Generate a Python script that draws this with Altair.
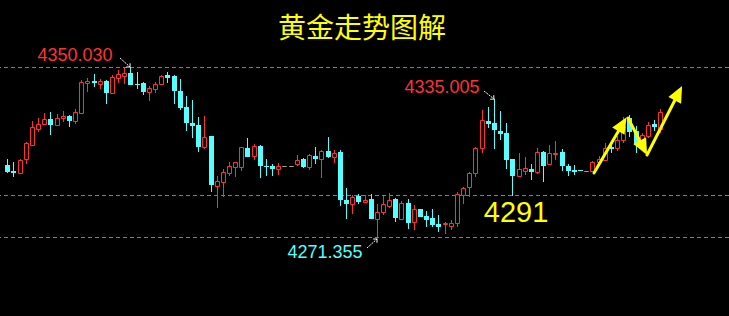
import altair as alt
import pandas as pd

# ---- candle data ----
opens = [4304.7, 4301.9, 4301.1, 4307.3, 4314.1, 4321.5, 4323.8, 4326.0, 4323.3, 4326.4,
         4327.3, 4325.2, 4328.9, 4342.8, 4343.6, 4342.2, 4343.6, 4338.1, 4345.1, 4345.9,
         4347.3, 4342.2, 4342.6, 4338.6, 4339.8, 4342.2, 4346.3, 4345.9, 4338.9, 4331.5,
         4324.1, 4323.2, 4313.1, 4318.1, 4295.1, 4296.9, 4301.1, 4303.9, 4303.9, 4312.5,
         4308.8, 4313.5, 4304.3, 4304.1, 4303.0, 4304.1, 4304.1, 4305.0, 4307.3, 4303.6,
         4308.7, 4307.3, 4311.0, 4308.2, 4310.5, 4288.6, 4286.8, 4290.5, 4287.7, 4289.1,
         4279.8, 4282.9, 4285.8, 4288.9, 4279.8, 4287.1, 4278.4, 4284.3, 4281.1, 4280.3,
         4277.4, 4277.5, 4276.6, 4278.0, 4290.8, 4294.5, 4300.8, 4312.4, 4325.0, 4324.1,
         4320.4, 4319.3, 4307.4, 4299.7, 4302.0, 4302.7, 4301.3, 4310.5, 4305.0, 4309.6,
         4310.5, 4304.1, 4302.4, 4302.4, 4301.9, 4301.8, 4306.1, 4307.1, 4312.9, 4312.7,
         4316.4, 4326.6, 4320.4, 4313.8, 4317.9, 4323.8, 4321.5]
highs = [4307.4, 4306.0, 4307.4, 4315.3, 4325.0, 4326.4, 4328.6, 4329.2, 4328.3, 4329.7,
         4327.6, 4330.6, 4344.0, 4344.9, 4346.8, 4344.5, 4344.0, 4346.3, 4348.6, 4349.8,
         4350.03, 4347.7, 4343.1, 4341.2, 4343.1, 4346.1, 4347.7, 4346.3, 4344.5, 4336.6,
         4334.8, 4326.9, 4327.3, 4318.3, 4299.6, 4302.8, 4306.1, 4306.1, 4313.0, 4317.2,
         4314.4, 4313.9, 4307.4, 4305.1, 4305.6, 4304.1, 4304.1, 4309.3, 4307.9, 4309.8,
         4312.9, 4311.6, 4317.6, 4311.5, 4311.5, 4294.2, 4290.9, 4291.4, 4290.9, 4291.4,
         4286.8, 4290.3, 4291.7, 4289.4, 4288.0, 4288.9, 4286.2, 4284.5, 4283.5, 4284.4,
         4281.7, 4278.4, 4279.2, 4292.0, 4294.5, 4301.4, 4313.0, 4330.1, 4331.5, 4335.005,
         4329.7, 4324.0, 4307.4, 4310.2, 4308.4, 4305.3, 4312.7, 4311.0, 4313.8, 4315.6,
         4311.9, 4305.3, 4304.5, 4302.4, 4301.9, 4306.5, 4308.7, 4314.7, 4313.9, 4318.1,
         4326.8, 4327.7, 4322.7, 4319.3, 4324.6, 4325.5, 4330.6]
lows = [4301.0, 4299.3, 4300.9, 4305.1, 4313.9, 4319.9, 4323.6, 4318.6, 4323.1, 4324.6,
        4322.4, 4323.7, 4328.7, 4338.6, 4340.9, 4339.8, 4333.0, 4337.9, 4342.6, 4342.2,
        4341.5, 4339.8, 4337.1, 4334.3, 4338.0, 4342.0, 4342.6, 4332.9, 4330.1, 4320.4,
        4317.3, 4310.8, 4312.1, 4292.3, 4284.9, 4290.0, 4299.7, 4299.3, 4302.0, 4308.3,
        4307.1, 4298.8, 4299.7, 4299.7, 4300.2, 4304.1, 4304.1, 4304.1, 4303.1, 4302.2,
        4305.0, 4298.8, 4308.0, 4305.5, 4285.8, 4279.7, 4282.1, 4286.8, 4287.5, 4279.6,
        4271.355, 4281.5, 4284.9, 4278.4, 4279.6, 4275.2, 4274.7, 4280.6, 4275.9, 4276.1,
        4273.8, 4272.9, 4274.7, 4276.1, 4286.6, 4289.9, 4299.0, 4310.1, 4321.7, 4311.9,
        4316.1, 4303.0, 4290.5, 4299.5, 4299.9, 4297.9, 4300.4, 4297.0, 4304.5, 4306.8,
        4302.0, 4299.8, 4300.05, 4301.8, 4301.9, 4301.3, 4305.6, 4306.9, 4310.4, 4311.0,
        4315.0, 4317.8, 4310.4, 4311.7, 4317.0, 4320.5, 4319.6]
closes = [4301.6, 4301.1, 4307.0, 4314.8, 4322.3, 4323.7, 4326.0, 4323.2, 4326.4, 4327.3,
          4325.0, 4329.1, 4343.1, 4343.5, 4342.8, 4343.6, 4338.1, 4345.4, 4346.8, 4347.3,
          4341.7, 4341.7, 4338.5, 4340.3, 4342.2, 4345.9, 4344.9, 4338.9, 4331.1, 4324.1,
          4322.7, 4313.1, 4317.5, 4295.6, 4297.3, 4301.3, 4304.1, 4305.9, 4312.9, 4308.5,
          4313.5, 4304.3, 4303.9, 4303.0, 4304.1, 4304.1, 4304.1, 4306.8, 4303.6, 4309.2,
          4307.3, 4311.0, 4308.2, 4310.1, 4288.6, 4286.8, 4290.0, 4287.7, 4288.6, 4279.8,
          4283.1, 4286.6, 4288.5, 4280.3, 4287.1, 4278.0, 4284.3, 4280.7, 4279.4, 4277.0,
          4276.1, 4278.0, 4278.0, 4291.1, 4294.0, 4301.0, 4312.5, 4325.5, 4323.5, 4320.7,
          4318.9, 4307.1, 4299.7, 4302.7, 4303.1, 4301.6, 4310.5, 4304.3, 4310.1, 4310.1,
          4304.3, 4301.8, 4301.3, 4301.8, 4301.9, 4306.1, 4307.4, 4312.4, 4311.9, 4316.1,
          4322.6, 4319.8, 4313.8, 4318.4, 4323.1, 4322.1, 4329.2]

# reference levels (dashed lines)
levels = [4350.03, 4291.0, 4271.355]

# text labels: text, candle-index position, price position, colour, font size
label_texts = ["4350.030", "4335.005", "4271.355", "4291", "黄金走势图解"]
label_i = [11.95, 71.65, 52.59, 83.58, 58.6]
label_p = [4355.1, 4340.3, 4263.95, 4282.5, 4367.2]
label_colors = ["#ff3232", "#ff3232", "#55ffff", "#ffff00", "#ffff00"]
label_sizes = [18, 18, 18, 29, 28]

# small white pointer arrows (start -> tip)
ptr_i = [19.37, 78.45, 59.45]
ptr_p = [4354.2, 4339.06, 4266.13]
ptr_i2 = [20.89, 80.06, 60.95]
ptr_p2 = [4350.03, 4335.08, 4270.43]
ptr_angle = [136.5, 130.7, 45.3]

# yellow trend arrows (start -> head centre)
arr_i = [96.23, 101.83, 104.88]
arr_p = [4300.97, 4326.43, 4309.30]
arr_i2 = [100.78, 104.22, 109.82]
arr_p2 = [4323.28, 4313.24, 4337.53]
arr_angle = [30.5, 152.8, 27.2]

RED = "#ff3232"
CYAN = "#55ffff"
GRAY = "#a0a0a0"
BG = "#000000"
YELLOW = "#ffff00"
DASH = "#d2691e"

n = len(opens)
df = pd.DataFrame({"i": list(range(1, n + 1)), "open": opens, "high": highs,
                   "low": lows, "close": closes})
df["dir"] = ["up" if c > o else ("down" if c < o else "flat") for o, c in zip(opens, closes)]

xs = alt.Scale(domain=[0.632, 117.36], nice=False, zero=False, round=True)
ys = alt.Scale(domain=[4234.8, 4381.04], nice=False, zero=False, round=True)

base = alt.Chart(df)
X = alt.X("i:Q", scale=xs, axis=None)

wick = base.transform_filter("datum.dir != 'flat'").mark_rule(strokeWidth=1, xOffset=0.5).encode(
    x=X,
    y=alt.Y("low:Q", scale=ys, axis=None),
    y2="high:Q",
    color=alt.Color("dir:N", scale=alt.Scale(domain=["up", "down", "flat"], range=[RED, CYAN, GRAY]),
                    legend=None),
)

down_body = base.transform_filter("datum.dir == 'down'").mark_bar(
    size=5, xOffset=0.5, color=CYAN, strokeWidth=0).encode(
    x=X, y=alt.Y("open:Q", scale=ys, axis=None), y2="close:Q")

up_body = base.transform_filter("datum.dir == 'up'").mark_bar(
    size=4, xOffset=0.5, yOffset=0.5, y2Offset=0.5, fill=BG, stroke=RED, strokeWidth=1).encode(
    x=X, y=alt.Y("open:Q", scale=ys, axis=None), y2="close:Q")

flat_body = base.transform_filter("datum.dir == 'flat'").mark_bar(
    size=4, xOffset=0.5, yOffset=0.5, y2Offset=0.5, fill=GRAY, stroke=GRAY, strokeWidth=1).encode(
    x=X, y=alt.Y("open:Q", scale=ys, axis=None), y2="close:Q")

lv = alt.Chart(pd.DataFrame({"level": levels})).mark_rule(
    color=DASH, strokeWidth=1, strokeDash=[4, 3], yOffset=0.5).encode(
    y=alt.Y("level:Q", scale=ys, axis=None))

lab_df = pd.DataFrame({"t": label_texts, "i": label_i, "p": label_p, "c": label_colors,
                       "s": label_sizes})
num_labels = alt.Chart(lab_df.iloc[:4]).mark_text(
    font="Liberation Sans", baseline="middle", align="center").encode(
    x=alt.X("i:Q", scale=xs, axis=None), y=alt.Y("p:Q", scale=ys, axis=None),
    text="t:N", color=alt.Color("c:N", scale=None), size=alt.Size("s:Q", scale=None))
title = alt.Chart(lab_df.iloc[4:]).mark_text(
    font="Noto Sans CJK SC", baseline="middle", align="center").encode(
    x=alt.X("i:Q", scale=xs, axis=None), y=alt.Y("p:Q", scale=ys, axis=None),
    text="t:N", color=alt.Color("c:N", scale=None), size=alt.Size("s:Q", scale=None))

ptr_df = pd.DataFrame({"i": ptr_i, "p": ptr_p, "i2": ptr_i2, "p2": ptr_p2, "a": ptr_angle})
ptr_line = alt.Chart(ptr_df).mark_rule(color="white", strokeWidth=1, strokeDash=[2, 1]).encode(
    x=alt.X("i:Q", scale=xs, axis=None), y=alt.Y("p:Q", scale=ys, axis=None),
    x2="i2:Q", y2="p2:Q")
ptr_head = alt.Chart(ptr_df).mark_point(
    shape="M -0.6 0.6 L 0 0 L 0.6 0.6", filled=False, color="white", strokeWidth=1,
    size=80, opacity=1).encode(
    x=alt.X("i2:Q", scale=xs, axis=None), y=alt.Y("p2:Q", scale=ys, axis=None),
    angle=alt.Angle("a:Q", scale=None))

arr_df = pd.DataFrame({"i": arr_i, "p": arr_p, "i2": arr_i2, "p2": arr_p2, "a": arr_angle})
arr_line = alt.Chart(arr_df).mark_rule(color=YELLOW, strokeWidth=3, strokeCap="round").encode(
    x=alt.X("i:Q", scale=xs, axis=None), y=alt.Y("p:Q", scale=ys, axis=None),
    x2="i2:Q", y2="p2:Q")
arr_head = alt.Chart(arr_df).mark_point(
    shape="M 0 -1 L 0.8 0.8 L -0.8 0.8 Z", filled=True, color=YELLOW, size=320,
    opacity=1, strokeWidth=0).encode(
    x=alt.X("i2:Q", scale=xs, axis=None), y=alt.Y("p2:Q", scale=ys, axis=None),
    angle=alt.Angle("a:Q", scale=None))

chart = alt.layer(
    lv, wick, down_body, up_body, flat_body,
    ptr_line, ptr_head, num_labels, title, arr_line, arr_head
).properties(
    width=729, height=316, background=BG, padding=0,
    autosize=alt.AutoSizeParams(type="none")
).configure_view(strokeWidth=0)

chart.save("out.html", embed_options={"renderer": "svg", "actions": False})
